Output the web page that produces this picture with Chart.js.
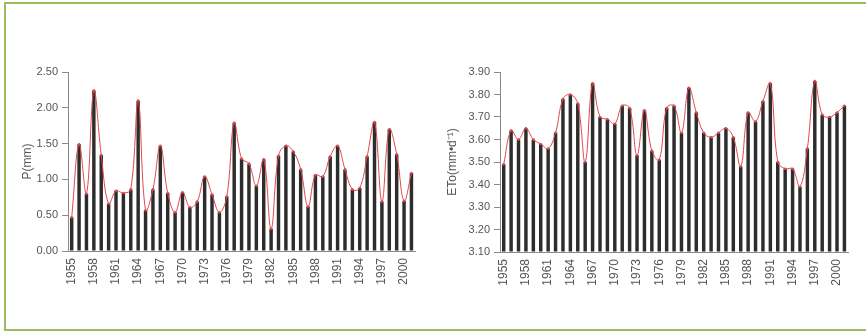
<!DOCTYPE html>
<html>
<head>
<meta charset="utf-8">
<script src="https://cdn.jsdelivr.net/npm/chart.js@4.4.0/dist/chart.umd.min.js"></script>
<style>
  html, body { margin: 0; padding: 0; background: #fff; }
  body { width: 866px; height: 333px; position: relative; overflow: hidden; }
  .frame {
    position: absolute; left: 4px; top: 2px; width: 900px; height: 329px;
    box-sizing: border-box;
    border-top: 2px solid #9cbb5c; border-left: 2px solid #9cbb5c; border-bottom: 2px solid #9cbb5c;
  }
  .box { position: absolute; top: 0; width: 433px; height: 333px; }
  #left { left: 0; }
  #right { left: 433px; }
</style>
</head>
<body>
<div class="frame"></div>
<div class="box" id="left"><canvas id="cP" width="433" height="333"></canvas></div>
<div class="box" id="right"><canvas id="cE" width="433" height="333"></canvas></div>
<script>
// years 1955-2001
const years = [];
for (let y = 1955; y <= 2001; y++) years.push(String(y));

// precipitation P (mm)
const precip = [
  0.47, 1.49, 0.80, 2.24, 1.34, 0.66, 0.84, 0.81, 0.86, 2.10,
  0.57, 0.86, 1.47, 0.81, 0.54, 0.82, 0.61, 0.69, 1.04, 0.79,
  0.54, 0.76, 1.79, 1.29, 1.22, 0.91, 1.28, 0.31, 1.33, 1.47,
  1.39, 1.14, 0.62, 1.06, 1.04, 1.32, 1.47, 1.14, 0.86, 0.88,
  1.32, 1.80, 0.69, 1.70, 1.35, 0.70, 1.09
];

// reference evapotranspiration ETo (mm/d)
const eto = [
  3.49, 3.64, 3.60, 3.65, 3.60, 3.58, 3.56, 3.63, 3.78, 3.80,
  3.76, 3.50, 3.85, 3.70, 3.69, 3.67, 3.75, 3.74, 3.53, 3.73,
  3.55, 3.51, 3.74, 3.75, 3.63, 3.83, 3.72, 3.63, 3.61, 3.63,
  3.65, 3.61, 3.48, 3.72, 3.68, 3.77, 3.85, 3.50, 3.47, 3.47,
  3.39, 3.56, 3.86, 3.71, 3.70, 3.72, 3.75
];

const pAxis = { min: 0, max: 2.5, step: 0.5 };
const eAxis = { min: 3.1, max: 3.9, step: 0.1 };

const FONT = '"Liberation Sans", Arial, sans-serif';
const TXT = '#555';
const AXIS = '#8a8a8a';

function makeChart(id, values, rng, title, pad, titlePad) {
  const ctx = document.getElementById(id).getContext('2d');
  return new Chart(ctx, {
    type: 'bar',
    data: {
      labels: years,
      datasets: [
        {
          type: 'line',
          data: values,
          borderColor: '#e0474c',
          backgroundColor: '#e0474c',
          borderWidth: 1,
          pointRadius: 1.3,
          pointBorderWidth: 0,
          tension: 0.4,
          order: 0
        },
        {
          data: values,
          base: rng.min,
          backgroundColor: '#2d2d2d',
          barPercentage: 0.9,
          categoryPercentage: 0.52,
          order: 1
        }
      ]
    },
    options: {
      responsive: false,
      animation: false,
      layout: { padding: { left: 0, right: pad.right, top: pad.top, bottom: 0 } },
      plugins: { legend: { display: false }, tooltip: { enabled: false } },
      scales: {
        x: {
          grid: { display: false, drawTicks: false },
          border: { display: true, color: AXIS },
          ticks: {
            autoSkip: false,
            maxRotation: 90,
            minRotation: 90,
            padding: 7,
            color: TXT,
            font: { family: FONT, size: 12 },
            callback: (v, i) => (i % 3 === 0 && i < 46 ? years[i] : '')
          },
          afterFit: (s) => { s.height = pad.xh; }
        },
        y: {
          min: rng.min,
          max: rng.max,
          grid: { drawOnChartArea: false, tickLength: 6, color: AXIS },
          border: { display: true, color: AXIS },
          ticks: {
            stepSize: rng.step,
            padding: 4,
            color: TXT,
            font: { family: FONT, size: 11 },
            callback: (v) => Number(v).toFixed(2)
          },
          title: {
            display: true,
            text: title,
            color: TXT,
            font: { family: FONT, size: 12 },
            padding: { top: titlePad, bottom: 0 }
          },
          afterFit: (s) => { s.width = pad.left; }
        }
      }
    }
  });
}

makeChart('cP', precip, pAxis, 'P(mm)',
  { left: 68, right: 14, top: 72, xh: 82 }, 20);
makeChart('cE', eto, eAxis, 'ETo(mm\u2022d\u207B\u00B9)',
  { left: 67, right: 17, top: 72, xh: 81 }, 12);
</script>
</body>
</html>
